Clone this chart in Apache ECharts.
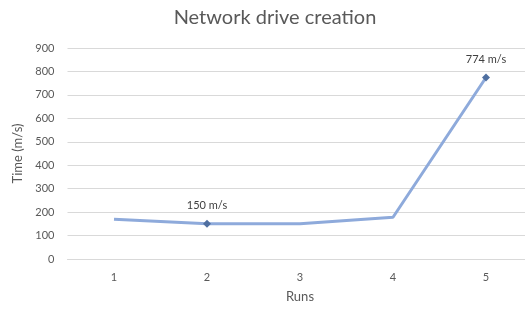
<!DOCTYPE html>
<html><head><meta charset="utf-8">
<script src="https://cdn.jsdelivr.net/npm/echarts@6/dist/echarts.min.js"></script>
<style>html,body{margin:0;padding:0;background:#fff}#c{width:525px;height:309px}</style>
</head><body><div id="c"></div>
<script>
const categories = ['1','2','3','4','5'];
const times = [170, 150, 150, 178, 774];
const markedRuns = [1, 4]; // indices with marker + label
const yTicks = [0, 900, 100];

const chart = echarts.init(document.getElementById('c'), null, {renderer:'canvas'});
const font = 'Lato, "Open Sans", sans-serif';
chart.setOption({
  animation: false,
  backgroundColor: '#fff',
  title: {
    text: 'Network drive creation', left: 270, top: 3, textAlign: 'center',
    textStyle: {fontFamily: font, fontSize: 20, fontWeight: 'normal', color: '#595959'}
  },
  grid: {left: 67.5, width: 465, top: 48, bottom: 50, outerBoundsMode: 'none', containLabel: false},
  xAxis: {
    type: 'category', data: categories, boundaryGap: true,
    name: 'Runs', nameLocation: 'middle', nameGap: 31,
    nameTextStyle: {fontFamily: font, fontSize: 13, color: '#595959'},
    axisLine: {show: true, lineStyle: {color: '#d9d9d9'}},
    axisTick: {show: false},
    axisLabel: {fontFamily: font, fontSize: 11, color: '#595959', margin: 13}
  },
  yAxis: {
    type: 'value', min: yTicks[0], max: yTicks[1], interval: yTicks[2],
    name: 'Time (m/s)', nameLocation: 'middle', nameGap: 41, nameRotate: 90,
    nameTextStyle: {fontFamily: font, fontSize: 13, color: '#595959'},
    axisLine: {show: false}, axisTick: {show: false},
    axisLabel: {fontFamily: font, fontSize: 11, color: '#595959', margin: 13},
    splitLine: {lineStyle: {color: '#d9d9d9', width: 1}}
  },
  series: [{
    type: 'line',
    data: times.map((v, i) => {
      const m = markedRuns.includes(i);
      return {
        value: v,
        symbol: m ? 'diamond' : 'none',
        symbolSize: m ? 8 : 0,
        label: {show: m, position: 'top', distance: 9,
          formatter: p => p.value + ' m/s',
          fontFamily: font, fontSize: 11, color: '#404040'}
      };
    }),
    lineStyle: {color: '#8eaadb', width: 3},
    itemStyle: {color: '#4f6fa0'},
    showSymbol: true
  }]
});
</script></body></html>
